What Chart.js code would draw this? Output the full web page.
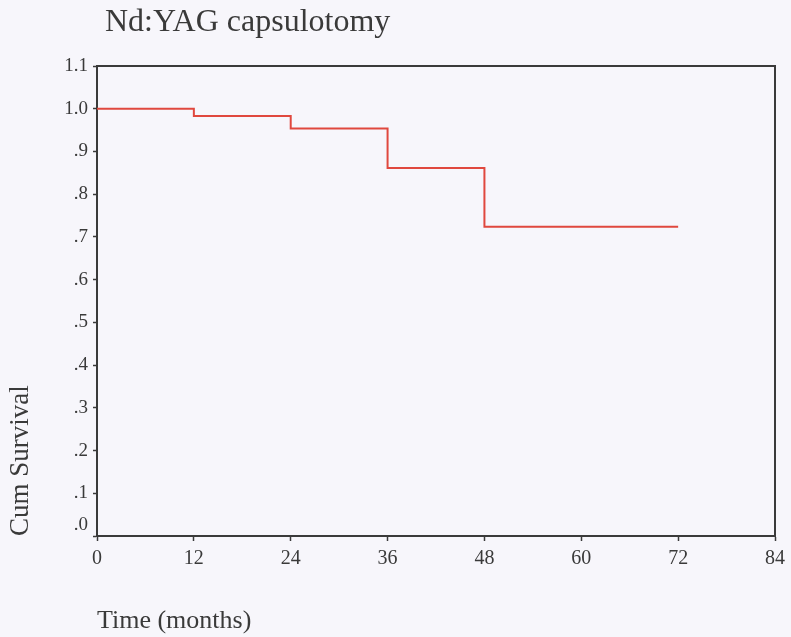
<!DOCTYPE html>
<html>
<head>
<meta charset="utf-8">
<script src="https://cdn.jsdelivr.net/npm/chart.js@4"></script>
<style>
  html, body { margin: 0; padding: 0; background: #f7f6fb; }
  #wrap { width: 791px; height: 637px; }
</style>
</head>
<body>
<div id="wrap"><canvas id="kmChart" width="791" height="637"></canvas></div>
<script>
// Kaplan-Meier curve, Nd:YAG capsulotomy
var months = [0, 12, 24, 36, 48, 72];
var cumSurvival = [1.0, 0.983, 0.954, 0.861, 0.724, 0.724];
var xTicks = [0, 12, 24, 36, 48, 60, 72, 84];
var yTicks = [0, 0.1, 0.2, 0.3, 0.4, 0.5, 0.6, 0.7, 0.8, 0.9, 1.0, 1.1];

var ink = '#3a3a3a';
var serif = "'Liberation Serif', 'Times New Roman', serif";

// chart title, top/right frame of the plot box, and the raised ".0" label
var frame = {
    id: 'frame',
    afterDraw: function(chart) {
        var c = chart.ctx, a = chart.chartArea, y = chart.scales.y;
        c.save();
        c.strokeStyle = ink;
        c.lineWidth = 2;
        c.beginPath();
        c.moveTo(a.left, a.top);
        c.lineTo(a.right, a.top);
        c.lineTo(a.right, a.bottom);
        c.stroke();
        c.fillStyle = ink;
        c.font = '32px ' + serif;
        c.textBaseline = 'alphabetic';
        c.fillText('Nd:YAG capsulotomy', 105, 31);
        // SPSS puts the zero label a little above the axis corner
        c.font = '19px ' + serif;
        c.textAlign = 'right';
        c.textBaseline = 'middle';
        c.fillText('.0', a.left - 9, y.getPixelForValue(0) - 11);
        c.restore();
    }
};

var ctx = document.getElementById('kmChart').getContext('2d');
var myChart = new Chart(ctx, {
    type: 'line',
    data: {
        datasets: [{
            label: 'Cum Survival',
            data: months.map(function(m, i) { return {x: m, y: cumSurvival[i]}; }),
            borderColor: '#e0483e',
            borderWidth: 2,
            pointRadius: 0,
            stepped: 'before',
            fill: false
        }]
    },
    options: {
        responsive: false,
        animation: false,
        layout: {
            padding: {top: 66, right: 13, left: 0, bottom: 0}
        },
        plugins: {
            legend: {display: false},
            tooltip: {enabled: false}
        },
        scales: {
            x: {
                type: 'linear',
                min: 0,
                max: 84,
                afterFit: function(s) { s.height = 101; },
                afterBuildTicks: function(s) {
                    s.ticks = xTicks.map(function(v) { return {value: v}; });
                },
                ticks: {
                    color: ink,
                    padding: 6,
                    maxRotation: 0,
                    font: {family: serif, size: 20}
                },
                grid: {
                    drawOnChartArea: false,
                    drawTicks: true,
                    tickLength: 5,
                    tickWidth: 1.5,
                    tickColor: ink
                },
                border: {display: true, color: ink, width: 2},
                title: {
                    display: true,
                    text: 'Time (months)',
                    align: 'start',
                    color: ink,
                    padding: {top: 0, bottom: 0},
                    font: {family: serif, size: 26}
                }
            },
            y: {
                type: 'linear',
                min: 0,
                max: 1.1,
                afterFit: function(s) { s.width = 97; },
                afterBuildTicks: function(s) {
                    s.ticks = yTicks.map(function(v) { return {value: v}; });
                },
                ticks: {
                    color: ink,
                    padding: 5,
                    font: {family: serif, size: 19},
                    callback: function(v) {
                        if (v === 0) return '';
                        var t = Number(v).toFixed(1);
                        return v < 1 ? t.replace('0.', '.') : t;
                    }
                },
                grid: {
                    drawOnChartArea: false,
                    drawTicks: true,
                    tickLength: 4,
                    tickWidth: 1.5,
                    tickColor: ink
                },
                border: {display: true, color: ink, width: 2},
                title: {
                    display: true,
                    text: 'Cum Survival',
                    align: 'start',
                    color: ink,
                    padding: {top: 5, bottom: 0},
                    font: {family: serif, size: 27}
                }
            }
        }
    },
    plugins: [frame]
});
</script>
</body>
</html>
